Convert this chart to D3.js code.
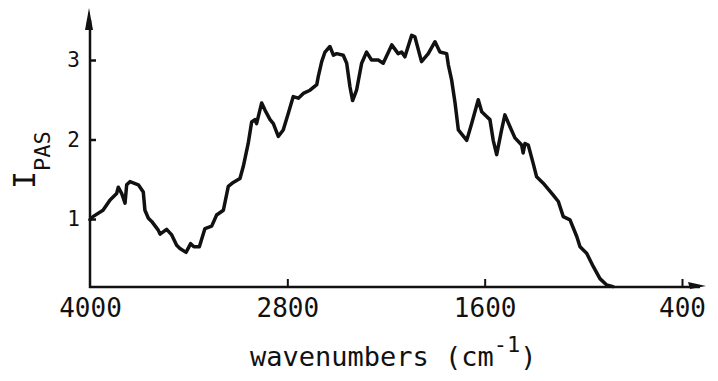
<!DOCTYPE html>
<html>
<head>
<meta charset="utf-8">
<script src="https://cdn.jsdelivr.net/npm/d3@7"></script>
<style>
  html, body { margin: 0; padding: 0; background: #fff; }
  svg { display: block; }
  text { font-family: "DejaVu Sans Mono", "Liberation Mono", monospace; fill: #111; }
</style>
</head>
<body>
<svg id="chart" width="718" height="381"></svg>
<script>
// ---- data ----
const wavenumbers = [4000, 3982, 3921, 3878, 3838, 3828, 3807, 3787, 3777, 3757, 3706, 3676, 3666, 3645, 3625, 3585, 3574, 3534, 3503, 3473, 3453, 3416, 3388, 3368, 3335, 3301, 3260, 3230, 3189, 3159, 3129, 3088, 3068, 3038, 3017, 2997, 2987, 2956, 2936, 2905, 2885, 2855, 2825, 2794, 2764, 2733, 2703, 2662, 2621, 2612, 2591, 2571, 2541, 2520, 2500, 2460, 2439, 2419, 2403, 2379, 2348, 2318, 2288, 2247, 2217, 2165, 2126, 2105, 2085, 2044, 2024, 1984, 1943, 1902, 1872, 1831, 1821, 1801, 1780, 1760, 1709, 1679, 1639, 1618, 1588, 1568, 1548, 1527, 1497, 1477, 1446, 1416, 1375, 1366, 1355, 1335, 1305, 1284, 1244, 1183, 1152, 1122, 1081, 1040, 1020, 980, 939, 899, 858, 820];
const intensity = [0.99, 1.03, 1.11, 1.24, 1.32, 1.40, 1.32, 1.20, 1.43, 1.47, 1.43, 1.34, 1.11, 1.01, 0.97, 0.86, 0.81, 0.87, 0.80, 0.67, 0.63, 0.58, 0.69, 0.65, 0.65, 0.88, 0.91, 1.05, 1.11, 1.41, 1.46, 1.51, 1.66, 1.95, 2.22, 2.25, 2.20, 2.46, 2.37, 2.25, 2.20, 2.04, 2.12, 2.33, 2.54, 2.52, 2.58, 2.62, 2.69, 2.79, 2.98, 3.10, 3.17, 3.06, 3.08, 3.06, 2.96, 2.66, 2.49, 2.62, 2.96, 3.10, 3.00, 3.00, 2.96, 3.19, 3.08, 3.10, 3.04, 3.31, 3.29, 2.98, 3.08, 3.23, 3.10, 3.08, 2.94, 2.75, 2.46, 2.12, 1.99, 2.20, 2.50, 2.35, 2.29, 2.25, 1.99, 1.81, 2.12, 2.31, 2.16, 2.02, 1.93, 1.83, 1.95, 1.93, 1.70, 1.53, 1.45, 1.30, 1.22, 1.03, 0.99, 0.78, 0.65, 0.57, 0.40, 0.25, 0.17, 0.15];
const xTicks = [4000, 2800, 1600, 400];
const yTicks = [1, 2, 3];
const xTitle = "wavenumbers (cm";
const xTitleSup = "-1";
const yTitle = "I";
const yTitleSub = "PAS";
const baselineValue = 0.145;

// ---- layout ----
const svg = d3.select("#chart");
const x = d3.scaleLinear().domain([4000, 400]).range([90, 682]);
const y = d3.scaleLinear().domain([0, 3]).range([298.5, 60]);
const axisY = y(baselineValue);
const axisX = x(4000);
const ink = "#111";

// x axis line + arrow
svg.append("line")
  .attr("x1", axisX - 1).attr("x2", 700)
  .attr("y1", axisY).attr("y2", axisY)
  .attr("stroke", ink).attr("stroke-width", 2.5);
svg.append("path")
  .attr("d", `M706,${axisY - 1} L688,${axisY - 5} L690,${axisY + 2} Z`)
  .attr("fill", ink);

// y axis line + arrow
svg.append("line")
  .attr("x1", axisX).attr("x2", axisX)
  .attr("y1", axisY + 1).attr("y2", 20)
  .attr("stroke", ink).attr("stroke-width", 2.5);
svg.append("path")
  .attr("d", `M${axisX - 1},8 L${axisX - 5},30 L${axisX + 3},30 Z`)
  .attr("fill", ink);

// x ticks
const gx = svg.append("g")
  .attr("transform", `translate(0,${axisY})`)
  .call(d3.axisBottom(x).tickValues(xTicks).tickFormat(d3.format("d")).tickSize(-8).tickPadding(12));
gx.select(".domain").remove();
gx.selectAll(".tick line").attr("stroke", ink).attr("stroke-width", 2);
gx.selectAll(".tick").filter(d => d === 4000).select("line").remove();
gx.selectAll(".tick text").attr("font-size", 26).attr("fill", ink)
  .style("font-family", '"DejaVu Sans Mono", monospace');

// y ticks
const gy = svg.append("g")
  .attr("transform", `translate(${axisX},0)`)
  .call(d3.axisLeft(y).tickValues(yTicks).tickFormat(d3.format("d")).tickSize(-6).tickPadding(10));
gy.select(".domain").remove();
gy.selectAll(".tick line").attr("stroke", ink).attr("stroke-width", 2.5);
gy.selectAll(".tick text").attr("font-size", 21).attr("fill", ink)
  .style("font-family", '"DejaVu Sans Mono", monospace');

// spectrum
const pts = wavenumbers.map((w, i) => [w, intensity[i]]);
svg.append("path")
  .datum(pts)
  .attr("fill", "none")
  .attr("stroke", ink)
  .attr("stroke-width", 3.5)
  .attr("stroke-linejoin", "round")
  .attr("stroke-linecap", "round")
  .attr("d", d3.line().x(d => x(d[0])).y(d => y(d[1])));

// x title
const xt = svg.append("text")
  .attr("x", 250).attr("y", 366)
  .attr("font-size", 27);
xt.append("tspan").text(xTitle);
xt.append("tspan").attr("dy", -14).attr("font-size", 22).text(xTitleSup);
xt.append("tspan").attr("dy", 14).text(")");

// y title
const yt = svg.append("text")
  .attr("transform", "translate(35,189) rotate(-90)");
yt.append("tspan").attr("font-size", 30).text(yTitle);
yt.append("tspan").attr("dy", 15).attr("font-size", 22).text(yTitleSub);
</script>
</body>
</html>
